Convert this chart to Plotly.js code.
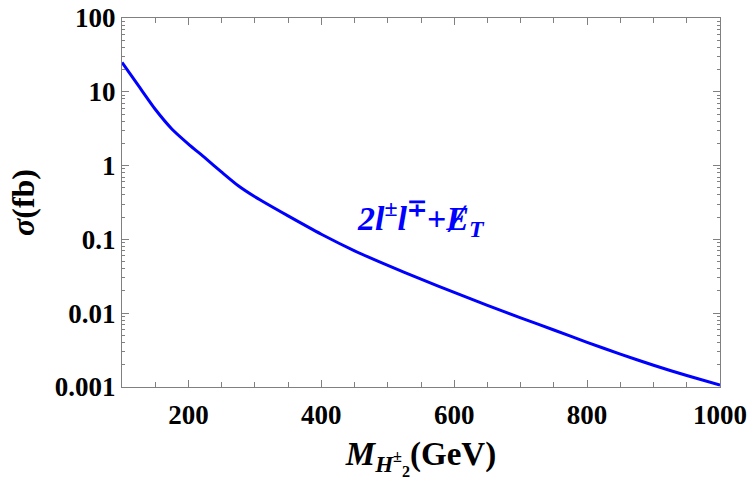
<!DOCTYPE html>
<html>
<head>
<meta charset="utf-8">
<script src="https://cdn.plot.ly/plotly-3.0.1.min.js"></script>
<style>html,body{margin:0;padding:0;background:#fff;}#chart{width:750px;height:488px;}</style>
</head>
<body>
<div id="chart"></div>
<script>
// Charged Higgs mass (GeV)
const massGeV = [100, 125, 150, 175, 200, 225, 250, 275, 300, 350, 400, 450, 500, 550, 600, 650, 700, 750, 800, 850, 900, 950, 1000];
// cross section sigma (fb), 2l+-l-+ + missing ET channel
const sigmaFb = [25, 12.0, 5.8, 3.14, 1.96, 1.27, 0.815, 0.533, 0.378, 0.208, 0.1175, 0.0701, 0.0444, 0.0290, 0.0191, 0.0128, 0.00865, 0.00592, 0.00403, 0.00279, 0.00197, 0.00143, 0.00106];

const yTickVals = [0.001, 0.01, 0.1, 1, 10, 100];
const yTickText = ["0.001", "0.01", "0.1", "1", "10", "100"];
const xTickVals = [200, 400, 600, 800, 1000];
const xTickText = ["200", "400", "600", "800", "1000"];

const channelLabel = "<b><i>2l</i><sup>±</sup><i>l</i><sup>∓</sup>+<i>Ɇ</i><sub><i>T</i></sub></b>";
const labelX = 550, labelY = 0.19;

const yMinor = [];
for (let d = -3; d < 2; d++) for (let k = 2; k <= 9; k++) yMinor.push(k * Math.pow(10, d));

const serif = '"Times New Roman", "Liberation Serif", Times, serif';
const axisColor = '#808080';
const tickFont = {family: serif, size: 27, color: '#000', weight: 'bold'};

const data = [{
  x: massGeV, y: sigmaFb, type: 'scatter', mode: 'lines',
  line: {color: '#0000ff', width: 3, shape: 'spline', smoothing: 0.6},
  hoverinfo: 'skip', showlegend: false
}];

const layout = {
  width: 750, height: 488,
  margin: {l: 122, r: 30, t: 17.5, b: 101},
  paper_bgcolor: '#fff', plot_bgcolor: '#fff',
  font: {family: serif, color: '#000'},
  xaxis: {
    range: [100, 1000], showgrid: false, zeroline: false,
    showline: true, linecolor: axisColor, linewidth: 1, mirror: 'allticks',
    ticks: 'inside', ticklen: 7, tickcolor: axisColor, tickwidth: 1,
    tickmode: 'array', tickvals: xTickVals, ticktext: xTickText,
    tickfont: tickFont, ticklabelstandoff: 4,
    minor: {dtick: 50, tick0: 0, ticks: 'inside', ticklen: 5, tickcolor: axisColor, showgrid: false},
    title: {text: "<i>M</i><sub><i>H</i><sup>±</sup><sub>2</sub></sub>(GeV)", font: {family: serif, size: 33, color: '#000', weight: 'bold'}, standoff: 12},
    automargin: false
  },
  yaxis: {
    type: 'log', range: [-3, 2], showgrid: false, zeroline: false,
    showline: true, linecolor: axisColor, linewidth: 1, mirror: 'allticks',
    ticks: 'inside', ticklen: 7, tickcolor: axisColor, tickwidth: 1,
    tickmode: 'array', tickvals: yTickVals, ticktext: yTickText,
    tickfont: tickFont,
    minor: {tickmode: 'array', tickvals: yMinor, ticks: 'inside', ticklen: 3, tickcolor: axisColor, showgrid: false},
    title: {text: "<i>σ</i>(fb)", font: {family: serif, size: 32, color: '#000', weight: 'bold'}, standoff: 10},
    automargin: false
  },
  annotations: [{
    x: labelX, y: Math.log10(labelY), xref: 'x', yref: 'y',
    text: channelLabel, showarrow: false,
    font: {family: serif, size: 34, color: '#0000ff', weight: 'bold'}
  }]
};

Plotly.newPlot('chart', data, layout, {displayModeBar: false, staticPlot: true});
</script>
</body>
</html>
